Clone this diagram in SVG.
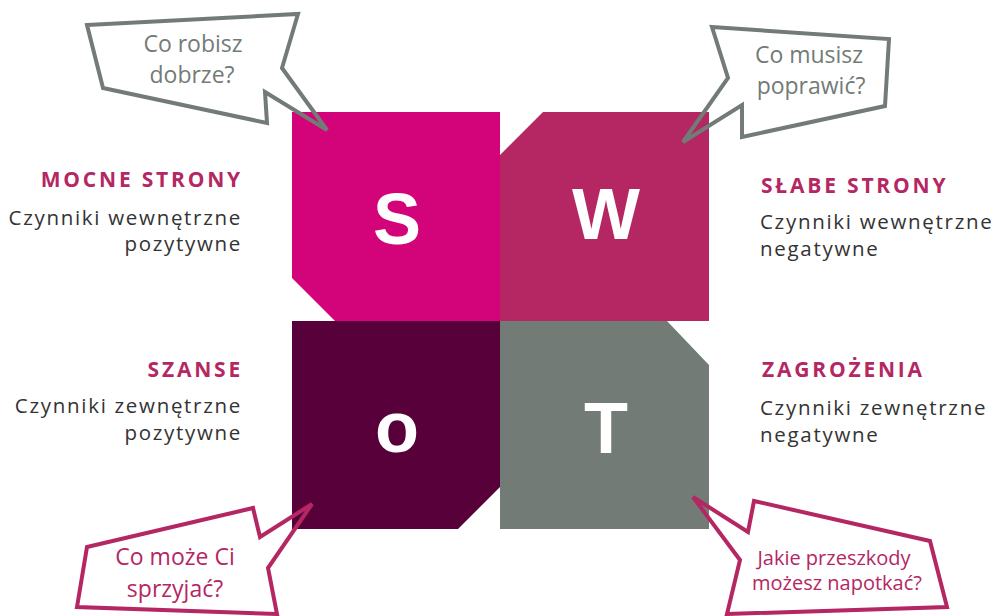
<svg xmlns="http://www.w3.org/2000/svg" width="993" height="616" viewBox="0 0 993 616">
<style>
.bg{fill:#ffffff}
.letter{font-family:"Liberation Sans",Arial,sans-serif;font-weight:bold;font-size:72px;fill:#ffffff;text-anchor:middle}
.bub{fill:none;stroke-width:4;stroke-linejoin:miter;stroke-miterlimit:4}
.bg1{stroke:#737b77}
.bm1{stroke:#b42763}
.btxt{font-family:"Open Sans","Noto Sans",sans-serif;font-size:23px;text-anchor:middle}
.tg{fill:#737b77}
.tm{fill:#b42763}
.head{font-family:"Open Sans","Noto Sans",sans-serif;font-weight:bold;font-size:21px;fill:#b42763;letter-spacing:2.8px}
.body{font-family:"Open Sans","Noto Sans",sans-serif;font-size:20.5px;fill:#333333;letter-spacing:1.7px}
.end{text-anchor:end}
</style>
<rect class="bg" x="0" y="0" width="993" height="616"/>
<g id="node-S">
<polygon points="292,112 500,112 500,321 335,321 292,278" fill="#d3047a"/>
<text class="letter" x="397" y="244">S</text>
</g>
<g id="node-W">
<polygon points="543,112 709,112 709,321 500,321 500,155" fill="#b42763"/>
<text class="letter" x="606" y="239">W</text>
</g>
<g id="node-O">
<polygon points="292,321 500,321 500,487 458,529 292,529" fill="#58003a"/>
<text class="letter" x="397" y="452">o</text>
</g>
<g id="node-T">
<polygon points="500,321 667,321 709,365 709,529 500,529" fill="#737b77"/>
<text class="letter" x="606" y="453">T</text>
</g>
<g id="bubble-S">
<polygon class="bub bg1" points="87,25 298,14 282,68 327,130 265,92 267,123 103,88"/>
<text class="btxt tg" x="193" y="52">Co robisz</text>
<text class="btxt tg" x="192" y="83">dobrze?</text>
</g>
<g id="bubble-W">
<polygon class="bub bg1" points="712,27 889,39 885,106 742,137 742,105 683,142 728,78"/>
<text class="btxt tg" x="809" y="63">Co musisz</text>
<text class="btxt tg" x="811" y="94">poprawić?</text>
</g>
<g id="bubble-O">
<polygon class="bub bm1" points="87,547 253,508 260,537 312,504 268,568 277,614 77,607"/>
<text class="btxt tm" x="175" y="565">Co może Ci</text>
<text class="btxt tm" x="175" y="597">sprzyjać?</text>
</g>
<g id="bubble-T">
<polygon class="bub bm1" points="754,501 930,541 947,607 727,614 740,560 693,497 748,532"/>
<text class="btxt tm" x="834" y="565" style="font-size:20px">Jakie przeszkody</text>
<text class="btxt tm" x="837" y="590" style="font-size:20px">możesz napotkać?</text>
</g>
<g id="label-S">
<text class="head end" x="243" y="187">MOCNE STRONY</text>
<text class="body end" x="242" y="225">Czynniki wewnętrzne</text>
<text class="body end" x="242" y="251">pozytywne</text>
</g>
<g id="label-W">
<text class="head" x="761" y="193">SŁABE STRONY</text>
<text class="body" x="760" y="229">Czynniki wewnętrzne</text>
<text class="body" x="760" y="256">negatywne</text>
</g>
<g id="label-O">
<text class="head end" x="243" y="377">SZANSE</text>
<text class="body end" x="242" y="413">Czynniki zewnętrzne</text>
<text class="body end" x="242" y="440">pozytywne</text>
</g>
<g id="label-T">
<text class="head" x="762" y="377">ZAGROŻENIA</text>
<text class="body" x="760" y="415">Czynniki zewnętrzne</text>
<text class="body" x="760" y="442">negatywne</text>
</g>
</svg>
